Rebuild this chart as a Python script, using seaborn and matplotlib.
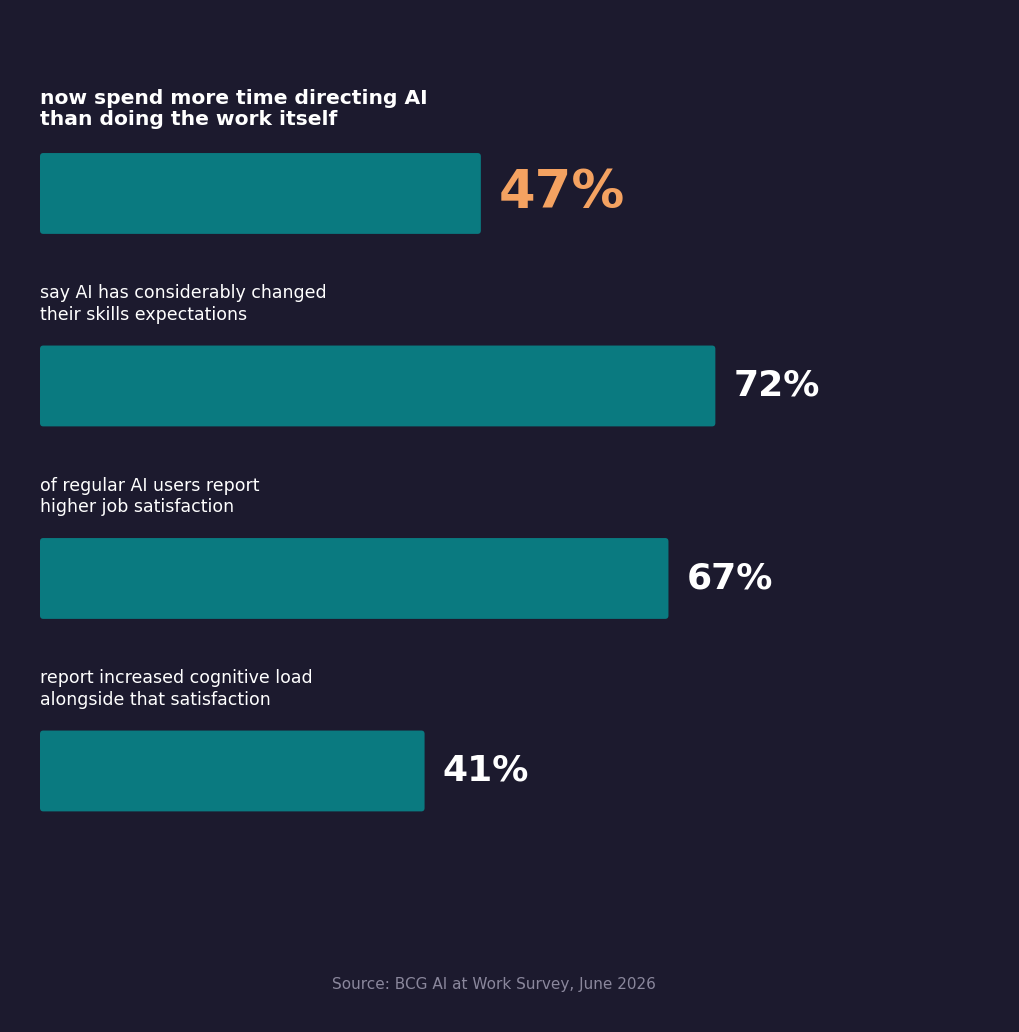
import matplotlib
matplotlib.use("Agg")
import matplotlib.pyplot as plt
from matplotlib.patches import FancyBboxPatch
import seaborn as sns
import pandas as pd

# data
labels = [
    "now spend more time directing AI\nthan doing the work itself",
    "say AI has considerably changed\ntheir skills expectations",
    "of regular AI users report\nhigher job satisfaction",
    "report increased cognitive load\nalongside that satisfaction",
]
values = [47, 72, 67, 41]
value_text = ["47%", "72%", "67%", "41%"]
source = "Source: BCG AI at Work Survey, June 2026"

BG = "#1c1a2e"
BAR = "#0a7a80"
HIGHLIGHT = "#f4a261"

df = pd.DataFrame({"label": labels, "value": values})

sns.set_style("white")
plt.rcParams["font.family"] = ["DejaVu Sans"]

fig = plt.figure(figsize=(10.19, 10.32), dpi=100, facecolor=BG)
ax = fig.add_axes([40 / 1019, 0, 938 / 1019, 1])
ax.set_facecolor(BG)

sns.barplot(data=df, x="value", y="label", orient="h", color=BAR,
            width=0.42, saturation=1, ax=ax, edgecolor="none")

ax.set_xlim(0, 100)
ax.set_ylim(4.356, -1.005)
ax.axis("off")

# swap the square bars for slightly rounded ones
for p in list(ax.patches):
    x0, y0, w, h = p.get_x(), p.get_y(), p.get_width(), p.get_height()
    p.remove()
    ax.add_patch(FancyBboxPatch((x0, y0), w, h,
                                boxstyle="round,pad=0,rounding_size=0.35",
                                mutation_aspect=0.05, facecolor=BAR,
                                edgecolor="none"))

bar_h = 0.42
for i, (lab, v, vt) in enumerate(zip(labels, values, value_text)):
    first = i == 0
    ax.text(0, i - bar_h / 2 - (0.125 if first else 0.113), lab,
            ha="left", va="bottom", color="white",
            fontsize=14.6 if first else 12.5,
            fontweight="bold" if first else "normal",
            linespacing=1.12 if first else 1.25)
    ax.annotate(vt, xy=(v, i), xytext=(13, 0), textcoords="offset points",
                ha="left", va="center", fontweight="bold",
                fontsize=38 if first else 26,
                color=HIGHLIGHT if first else "white")

fig.text(493.5 / 1019, 1 - 984 / 1032, source, ha="center", va="center",
         color="#8a879c", fontsize=11)

fig.savefig("out.png", dpi=100, facecolor=BG)
